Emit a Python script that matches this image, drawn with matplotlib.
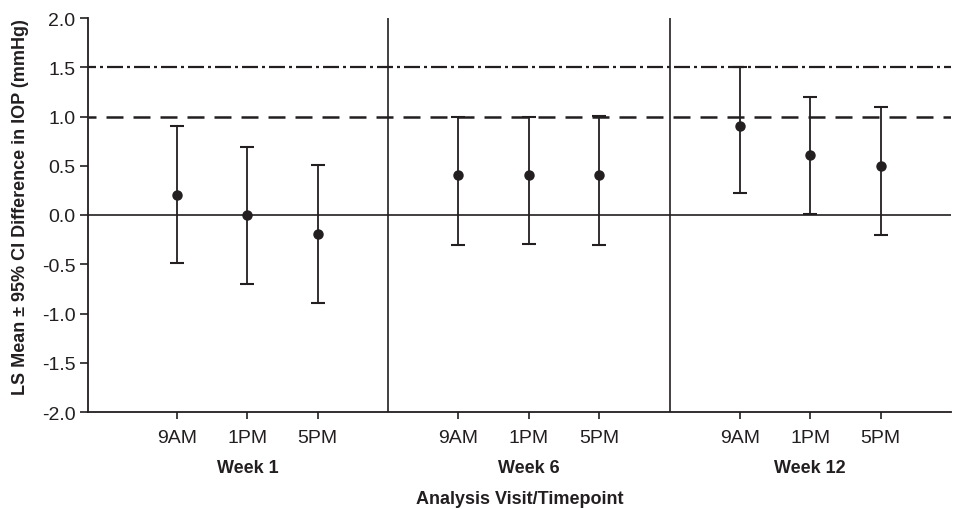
import matplotlib.pyplot as plt
import matplotlib.transforms as mtransforms

plt.rcParams["font.family"] = ["Liberation Sans", "DejaVu Sans"]

# Data
weeks = ["Week 1", "Week 6", "Week 12"]
timepoints = ["9AM", "1PM", "5PM"]
ls_mean = [0.20, 0.00, -0.19, 0.41, 0.41, 0.41, 0.90, 0.61, 0.50]
ci_lower = [-0.49, -0.70, -0.89, -0.30, -0.29, -0.30, 0.22, 0.01, -0.20]
ci_upper = [0.90, 0.69, 0.51, 1.00, 1.00, 1.01, 1.50, 1.20, 1.10]
margin_dashed = 1.0
margin_dashdot = 1.5

ink = "#231f20"

# x positions: three points per week, a separator slot between weeks
xpos = []
for g in range(len(weeks)):
    xpos += [g * 4 + 1 + i for i in range(len(timepoints))]
separators = [4, 8]
week_centres = [g * 4 + 2 for g in range(len(weeks))]

fig = plt.figure(figsize=(9.56, 5.10), dpi=100)
ax = fig.add_axes([88 / 956, (510 - 413) / 510, (951 - 88) / 956, (413 - 19) / 510])

yerr = [[m - lo for m, lo in zip(ls_mean, ci_lower)],
        [hi - m for m, hi in zip(ls_mean, ci_upper)]]
ax.errorbar(xpos, ls_mean, yerr=yerr, fmt="o", color=ink, ecolor=ink,
            elinewidth=1.3, capsize=5, capthick=1.5, markersize=6.5, zorder=3)

ax.axhline(0, color=ink, lw=1.2, zorder=1)
ax.axhline(margin_dashed, color=ink, lw=1.8, linestyle=(3.6, (6.8, 4.0)), zorder=1)
ax.axhline(margin_dashdot, color=ink, lw=1.6, linestyle=(3.6, (7.2, 1.8, 1.35, 1.8)), zorder=1)
for s in separators:
    ax.axvline(s, color=ink, lw=1.2, zorder=1)

ax.set_xlim(1 - 1.265, 12)
ax.set_ylim(-2.0, 2.0)
ax.set_yticks([-2.0, -1.5, -1.0, -0.5, 0.0, 0.5, 1.0, 1.5, 2.0])
ax.set_yticklabels([f"{v:.1f}" for v in ax.get_yticks()])
ax.set_xticks(xpos)
ax.set_xticklabels(timepoints * len(weeks))

for side in ["top", "right"]:
    ax.spines[side].set_visible(False)
for side in ["left", "bottom"]:
    ax.spines[side].set_color(ink)
    ax.spines[side].set_linewidth(1.3)

ax.tick_params(axis="both", colors=ink, labelsize=14, direction="out", width=1.2)
ax.tick_params(axis="y", length=6, pad=3)
ax.tick_params(axis="x", length=5, pad=7)

# week labels below the time-of-day tick labels
week_offset = ax.transData + mtransforms.ScaledTranslation(0, -0.47, fig.dpi_scale_trans)
for c, w in zip(week_centres, weeks):
    ax.text(c, -2.0, w, transform=week_offset, ha="center", va="top",
            fontsize=13, fontweight="bold", color=ink)

fig.text(519.5 / 956, 1 - 500 / 510, "Analysis Visit/Timepoint", ha="center", va="center",
         fontsize=13, fontweight="bold", color=ink)
fig.text(21 / 956, 1 - 207 / 510, "LS Mean \u00b1 95% CI Difference in IOP (mmHg)",
         rotation=90, ha="center", va="center", fontsize=13, fontweight="bold", color=ink)

fig.savefig("out.png", dpi=100)
